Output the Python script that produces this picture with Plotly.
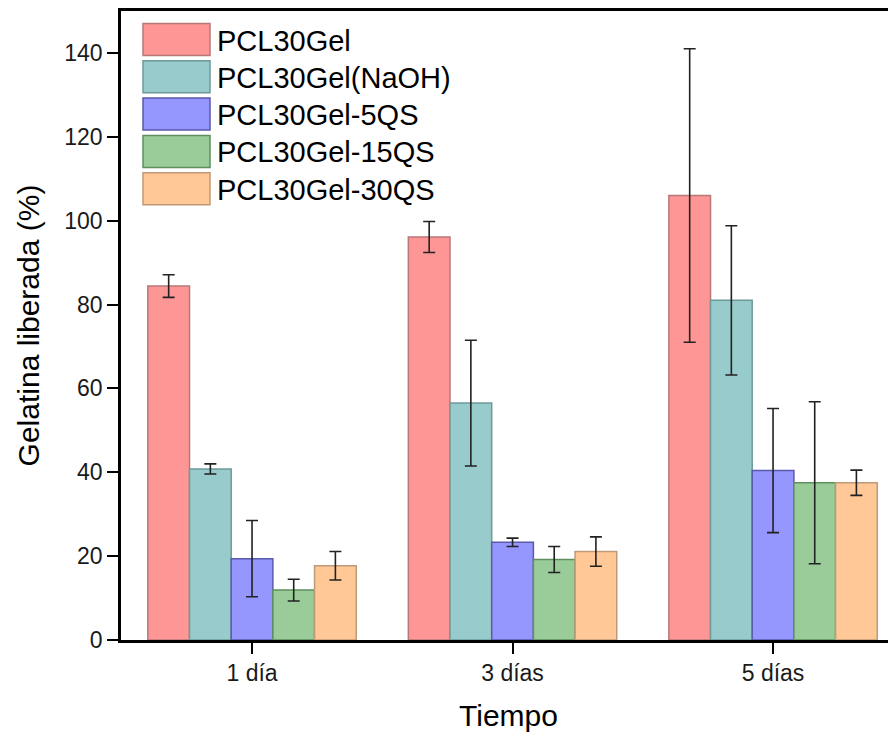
import plotly.graph_objects as go

categories = ["1 día", "3 días", "5 días"]
series_names = ["PCL30Gel", "PCL30Gel(NaOH)", "PCL30Gel-5QS", "PCL30Gel-15QS", "PCL30Gel-30QS"]
pcl30gel = [84.4, 96.1, 106.0]
pcl30gel_err = [2.7, 3.7, 35.0]
pcl30gel_naoh = [40.8, 56.5, 81.0]
pcl30gel_naoh_err = [1.2, 15.0, 17.8]
pcl30gel_5qs = [19.4, 23.3, 40.4]
pcl30gel_5qs_err = [9.1, 1.0, 14.8]
pcl30gel_15qs = [11.9, 19.2, 37.5]
pcl30gel_15qs_err = [2.6, 3.1, 19.3]
pcl30gel_30qs = [17.7, 21.1, 37.5]
pcl30gel_30qs_err = [3.4, 3.5, 3.0]
y_ticks = [0, 20, 40, 60, 80, 100, 120, 140]

values = [pcl30gel, pcl30gel_naoh, pcl30gel_5qs, pcl30gel_15qs, pcl30gel_30qs]
errors = [pcl30gel_err, pcl30gel_naoh_err, pcl30gel_5qs_err, pcl30gel_15qs_err, pcl30gel_30qs_err]
fills = ["#FF9696", "#98CBCB", "#9696FF", "#99CC99", "#FFC896"]
edges = ["#B87878", "#6E9A9A", "#5A5AAA", "#5E8F5E", "#BE9A78"]

FONT = "Liberation Sans, Arial, sans-serif"
# the page body adds an 8px offset; the figure is sized so it fits the
# 896x732 window and the plot area lands at x 121..896, y 11..640
OFF = 8
W, H = 896 - OFF, 732 - OFF
ML, MR, MT, MB = 113, 0, 3, 92

fig = go.Figure()
for name, v, e, fc, ec in zip(series_names, values, errors, fills, edges):
    fig.add_trace(go.Bar(
        x=categories, y=v, name=name,
        marker=dict(color=fc, line=dict(color=ec, width=1.5)),
        error_y=dict(type="data", array=e, visible=True, color="#222222",
                     thickness=1.6, width=6),
        showlegend=False,
    ))

# custom legend (large swatches like the original), window-pixel positions
pw = W - ML - MR
ph = H - MT - MB
def px2x(px):
    return (px - OFF - ML) / pw
def px2y(py):
    return (H - MB - (py - OFF)) / ph

shapes = []
annotations = []
top0 = 23.5
step = 37.3
sh = 32.0
for i, (name, fc, ec) in enumerate(zip(series_names, fills, edges)):
    y0 = top0 + i * step
    shapes.append(dict(type="rect", xref="paper", yref="paper",
                       x0=px2x(143), x1=px2x(210), y0=px2y(y0 + sh), y1=px2y(y0),
                       fillcolor=fc, line=dict(color=ec, width=1.5)))
    annotations.append(dict(xref="paper", yref="paper", x=px2x(215), y=px2y(y0 + sh / 2 + 1),
                            text=name, showarrow=False, xanchor="left", yanchor="middle",
                            font=dict(family=FONT, size=29, color="black")))

fig.update_layout(
    width=W, height=H,
    margin=dict(l=ML, r=MR, t=MT, b=MB),
    paper_bgcolor="white", plot_bgcolor="white",
    barmode="group", bargap=0.2, bargroupgap=0.0,
    font=dict(family=FONT, color="black"),
    shapes=shapes, annotations=annotations,
    xaxis=dict(
        type="category", range=[-0.503, 2.472], automargin=False,
        showline=True, linecolor="black", linewidth=2.5, mirror=True,
        ticks="outside", ticklen=11, tickwidth=2, tickcolor="black",
        showgrid=False, zeroline=False,
        tickfont=dict(family=FONT, size=23, color="#1a1a1a"),
        title=dict(text="Tiempo", font=dict(family=FONT, size=30, color="black"), standoff=20),
    ),
    yaxis=dict(
        range=[0, 150], tickvals=y_ticks, automargin=False,
        showline=True, linecolor="black", linewidth=2.5, mirror=False,
        ticks="outside", ticklen=11, tickwidth=2, tickcolor="black",
        showgrid=False, zeroline=False,
        tickfont=dict(family=FONT, size=23, color="#1a1a1a"),
        title=dict(text="Gelatina liberada (%)", font=dict(family=FONT, size=30, color="black"), standoff=16),
    ),
)

fig.write_html("out.html")
